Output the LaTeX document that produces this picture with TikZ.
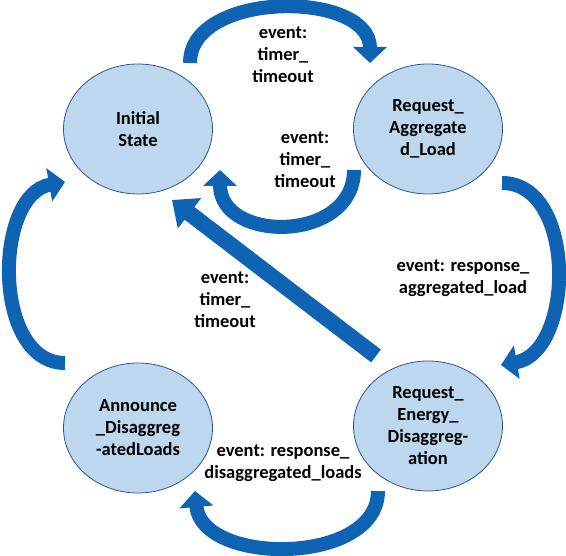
\documentclass[tikz,border=0pt]{standalone}
\usepackage{fontspec}
\setmainfont{Carlito}
\usepackage{xcolor}
\usepackage{tikz}
\usetikzlibrary{positioning, shapes, calc}
\usetikzlibrary{arrows.meta}
\definecolor{statefill}{RGB}{189,215,238}
\definecolor{stateline}{RGB}{47,82,143}
\definecolor{arrowblue}{RGB}{14,99,179}

\begin{document}
\begin{tikzpicture}[x=1pt, y=1pt, font=\fontsize{18.5}{22}\selectfont\bfseries]
            \tikzset{state/.style = {ellipse, draw=stateline, fill=statefill, line width=0.8pt, minimum width=149pt, minimum height=130pt, inner sep=0pt, align=center}}
            \tikzset{bigedge/.style = {line width=14pt, draw=arrowblue, -{Triangle[width=33pt, length=16pt]}}}
            \tikzset{lbl/.style = {align=center, inner sep=0pt}}

            \useasboundingbox (0,0) rectangle (566,556);

            \node[state] (init) at (138,427) {Initial\\State};
            \node[state] (reqagg) at (428,427) {Request\_\\Aggregate\\d\_Load};
            \node[state] (announce) at (138,128) {Announce\\\_Disaggreg\\-atedLoads};
            \node[state] (reqenergy) at (428,130) {Request\_\\Energy\_\\Disaggreg-\\ation};

            % labels
            \node[lbl] (lbltop) at (283,501) {event:\\timer\_\\timeout};
            \node[lbl] (lblmid) at (305,396) {event:\\timer\_\\timeout};
            \node[lbl] (lbldiag) at (225,256) {event:\\timer\_\\timeout};
            \node[lbl] (lblright) at (463,278) {event: response\_\\aggregated\_load};
            \node[lbl] (lblbottom) at (283,93) {event: response\_\\disaggregated\_loads};

            % curved arrows
            \draw[bigedge] ($(init.center)+(52,66)$) to[out=90, in=90, looseness=1.04] ($(reqagg.center)+(-58,66)$);
            \draw[bigedge] ($(reqagg.center)+(-74,-41)$) to[out=-90, in=-90, looseness=1.4] ($(init.center)+(82,-41)$);
            \draw[bigedge] ($(reqagg.center)+(74,-54)$) to[out=0, in=10, looseness=1.05] ($(reqenergy.center)+(73,61)$);
            \draw[bigedge] ($(reqenergy.center)+(-50,-65)$) to[out=-90, in=-85, looseness=1.05] ($(announce.center)+(57,-63)$);
            \draw[bigedge] ($(announce.center)+(-73,65)$) to[out=180, in=190, looseness=1.03] ($(init.center)+(-73,-53)$);

            % straight arrow
            \draw[bigedge, line width=16pt, -{Triangle[width=37pt, length=22pt]}] ($(reqenergy.center)+(-52,70)$) -- ($(init.center)+(34,-71)$);

        \end{tikzpicture}
\end{document}
